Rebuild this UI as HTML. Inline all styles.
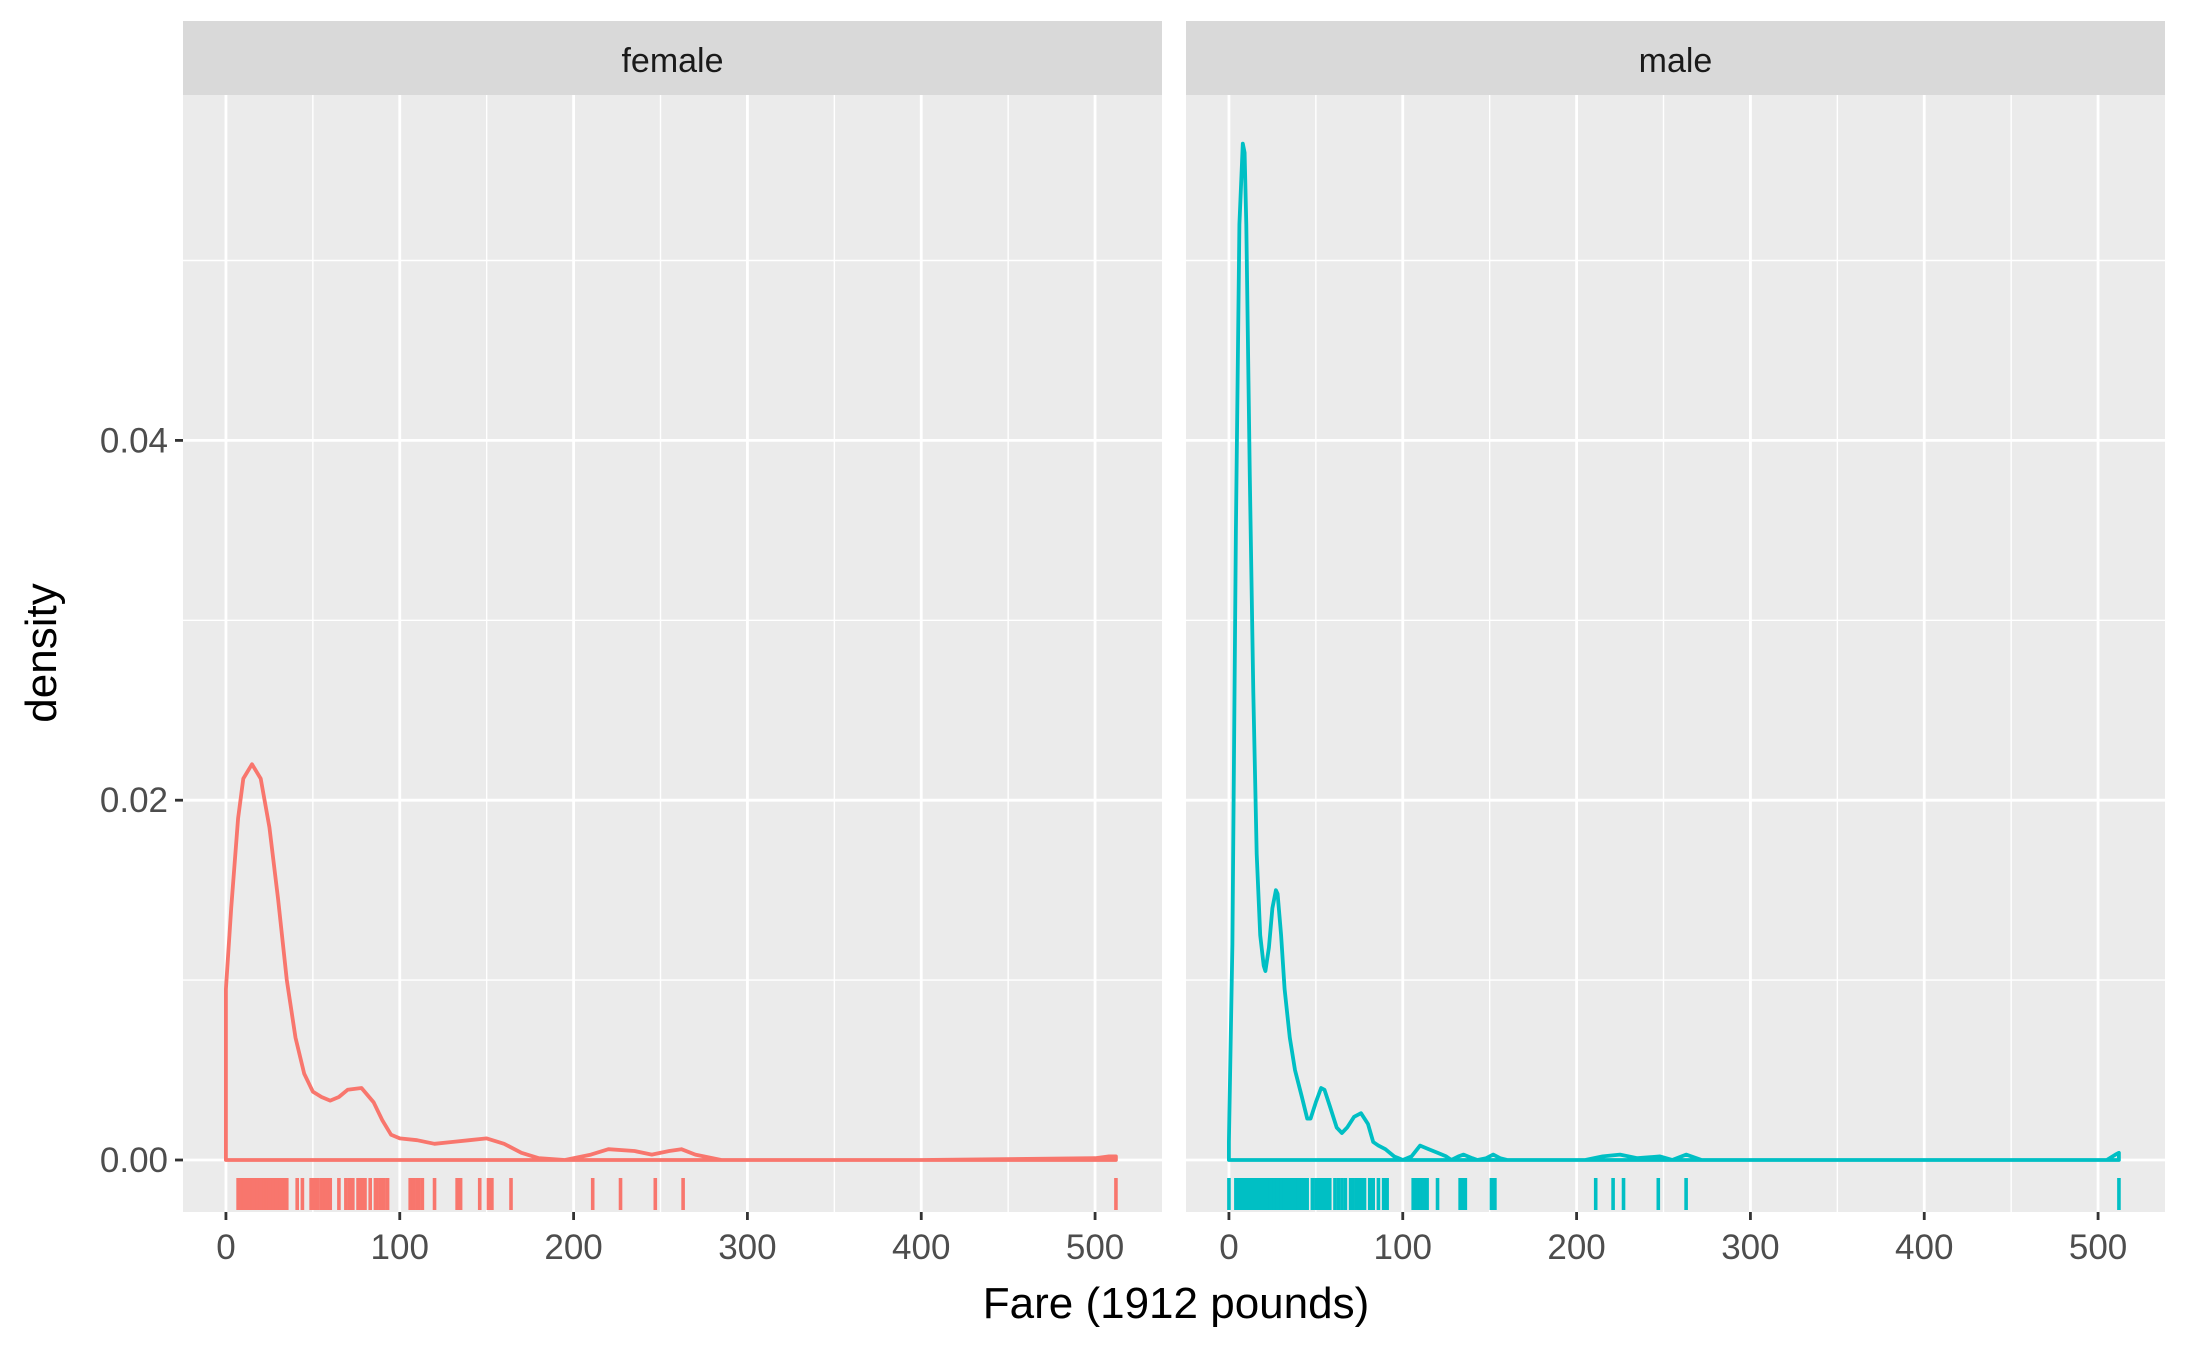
<!DOCTYPE html>
<html><head><meta charset="utf-8">
<style>
html,body{margin:0;padding:0;background:#fff;}
svg{display:block;font-family:"Liberation Sans",Arial,sans-serif;}
</style></head>
<body>
<svg id="chart" width="2187" height="1350" viewBox="0 0 2187 1350" xmlns="http://www.w3.org/2000/svg">
<rect x="0" y="0" width="2187" height="1350" fill="#fff"/>
<text x="1176" y="1318" font-size="44" text-anchor="middle" fill="#000">Fare (1912 pounds)</text>
<text transform="translate(56,653) rotate(-90)" font-size="44" text-anchor="middle" fill="#000">density</text>
</svg>
<script>
// ---- data ----
const panels = ["female", "male"];
const xTicks = [0, 100, 200, 300, 400, 500];
const yTicks = [0, 0.02, 0.04];
const yTickLabels = ["0.00", "0.02", "0.04"];
const femaleFare = [0,0,3,7,10,15,20,25,30,35,40,45,50,55,60,65,70,78,85,90,95,100,110,120,130,140,150,160,170,180,195,210,220,235,245,255,262,270,285,300,400,500,508,512,512];
const femaleDens = [0,0.0095,0.014,0.019,0.0212,0.0220,0.0212,0.0185,0.0145,0.010,0.0068,0.0048,0.0038,0.0035,0.0033,0.0035,0.0039,0.0040,0.0032,0.0022,0.0014,0.0012,0.0011,0.0009,0.0010,0.0011,0.0012,0.0009,0.0004,0.0001,0.0000,0.0003,0.0006,0.0005,0.0003,0.0005,0.0006,0.0003,0.0000,0.0000,0.0000,0.0001,0.0002,0.0002,0];
const maleFare = [0,0,2,4,6,8,9,10,12,14,16,18,20,21,23,25,27,28,30,32,35,38,42,45,47,50,53,55,58,62,65,68,72,76,80,83,86,90,95,100,105,110,115,120,125,128,132,135,140,143,148,152,156,160,180,205,215,225,235,248,255,263,272,300,400,505,510,512,512];
const maleDens = [0,0.0010,0.012,0.035,0.052,0.0565,0.0560,0.052,0.038,0.026,0.017,0.0125,0.0108,0.0105,0.0118,0.0140,0.0150,0.0148,0.0125,0.0095,0.0068,0.0050,0.0035,0.0023,0.0023,0.0032,0.0040,0.0039,0.0030,0.0018,0.0015,0.0018,0.0024,0.0026,0.0020,0.0010,0.0008,0.0006,0.0002,0.0000,0.0002,0.0008,0.0006,0.0004,0.0002,0.0000,0.0002,0.0003,0.0001,0.0000,0.0001,0.0003,0.0001,0.0000,0.0000,0.0000,0.0002,0.0003,0.0001,0.0002,0.0000,0.0003,0.0000,0.0000,0.0000,0.0000,0.0003,0.0004,0];
const femaleRug = [7,8,8.5,9,10,10.5,11,12,13,14,15,16,17,18,19,20,21,22,23,24,25,26,27,28,29,30,31,32,33,34,35,41,44,49,50,51,52,53,55,56,57,58,60,65,69,71,72,73,76,77,78,79,80,83,86,87,89,90,91,93,106,108,110,111,113,120,133,134,135,146,151,152,153,164,211,227,247,263,512];
const maleRug = [0,4,5,6,6.5,7,7.5,8,8.5,9,10,11,12,13,14,15,16,17,18,19,20,21,22,23,24,25,26,27,28,29,30,31,32,33,34,35,36,37,38,39,40,41,42,43,44,45,48,50,51,52,53,54,55,56,57,58,61,63,65,67,70,71,73,75,76,77,78,81,82,83,86,89,90,91,106,107,108,109,110,111,112,113,114,120,133,134,135,136,151,152,153,211,221,227,247,263,512];
const seriesFare = [femaleFare, maleFare];
const seriesDens = [femaleDens, maleDens];
const rugs = [femaleRug, maleRug];
const colors = ["#F8766D", "#00BFC4"];

// ---- layout ----
const panelLeft = [183, 1186];
const panelW = 979;
const panelTop = 95, panelBottom = 1212;
const stripTop = 21;
const xMin = -24.7, xMax = 538.5;
const yMin = -0.00289, yMax = 0.0592;
const NS = "http://www.w3.org/2000/svg";
const svg = document.getElementById("chart");
function mk(tag, attrs, parent) {
  const e = document.createElementNS(NS, tag);
  for (const k in attrs) e.setAttribute(k, attrs[k]);
  (parent || svg).appendChild(e);
  return e;
}
function yScale(v) { return panelBottom - (v - yMin) / (yMax - yMin) * (panelBottom - panelTop); }

panels.forEach((name, p) => {
  const L = panelLeft[p];
  const xScale = v => L + (v - xMin) / (xMax - xMin) * panelW;
  const g = mk("g", {});
  
  
  const bg = mk("rect", {x: L, y: panelTop, width: panelW, height: panelBottom - panelTop, fill: "#EBEBEB"}, g);
  
  
  [50,150,250,350,450].forEach(v => {
    const l = mk("line", {x1: xScale(v), x2: xScale(v), y1: panelTop, y2: panelBottom, stroke: "#fff", "stroke-width": 1.4}, g);
    
    
  });
  [0.01,0.03,0.05].forEach(v => {
    const l = mk("line", {x1: L, x2: L + panelW, y1: yScale(v), y2: yScale(v), stroke: "#fff", "stroke-width": 1.4}, g);
    
    
  });
  xTicks.forEach(v => {
    const l = mk("line", {x1: xScale(v), x2: xScale(v), y1: panelTop, y2: panelBottom, stroke: "#fff", "stroke-width": 2.8}, g);
    
    
    const t = mk("line", {x1: xScale(v), x2: xScale(v), y1: panelBottom, y2: panelBottom + 8, stroke: "#333", "stroke-width": 2.8}, g);
    
    
    const tx = mk("text", {x: xScale(v), y: panelBottom + 47, "font-size": 35, "text-anchor": "middle", fill: "#4D4D4D"}, g);
    tx.textContent = v;
    
    
  });
  yTicks.forEach(v => {
    const l = mk("line", {x1: L, x2: L + panelW, y1: yScale(v), y2: yScale(v), stroke: "#fff", "stroke-width": 2.8}, g);
    
    
  });
  const st = mk("rect", {x: L, y: stripTop, width: panelW, height: panelTop - stripTop, fill: "#D9D9D9"}, g);
  
  
  const sl = mk("text", {x: L + panelW / 2, y: 72, "font-size": 34, "text-anchor": "middle", fill: "#1A1A1A"}, g);
  sl.textContent = name;
  
  
  const fx = seriesFare[p], dy = seriesDens[p];
  let d = "";
  fx.forEach((v, i) => { d += (i ? "L" : "M") + xScale(v).toFixed(1) + "," + yScale(dy[i]).toFixed(1); });
  d += "Z";
  const path = mk("path", {d: d, fill: "none", stroke: colors[p], "stroke-width": 3.8, "stroke-linejoin": "round"}, g);
  
  
  rugs[p].forEach(v => {
    const r = mk("line", {x1: xScale(v), x2: xScale(v), y1: 1178, y2: 1210, stroke: colors[p], "stroke-width": 3.6}, g);
    
    
  });
});
yTicks.forEach((v, i) => {
  const t = mk("line", {x1: 175, x2: 183, y1: yScale(v), y2: yScale(v), stroke: "#333", "stroke-width": 2.8});
  
  
  const tx = mk("text", {x: 168, y: yScale(v) + 12, "font-size": 35, "text-anchor": "end", fill: "#4D4D4D"});
  tx.textContent = yTickLabels[i];
  
  
});
</script>
</body></html>
